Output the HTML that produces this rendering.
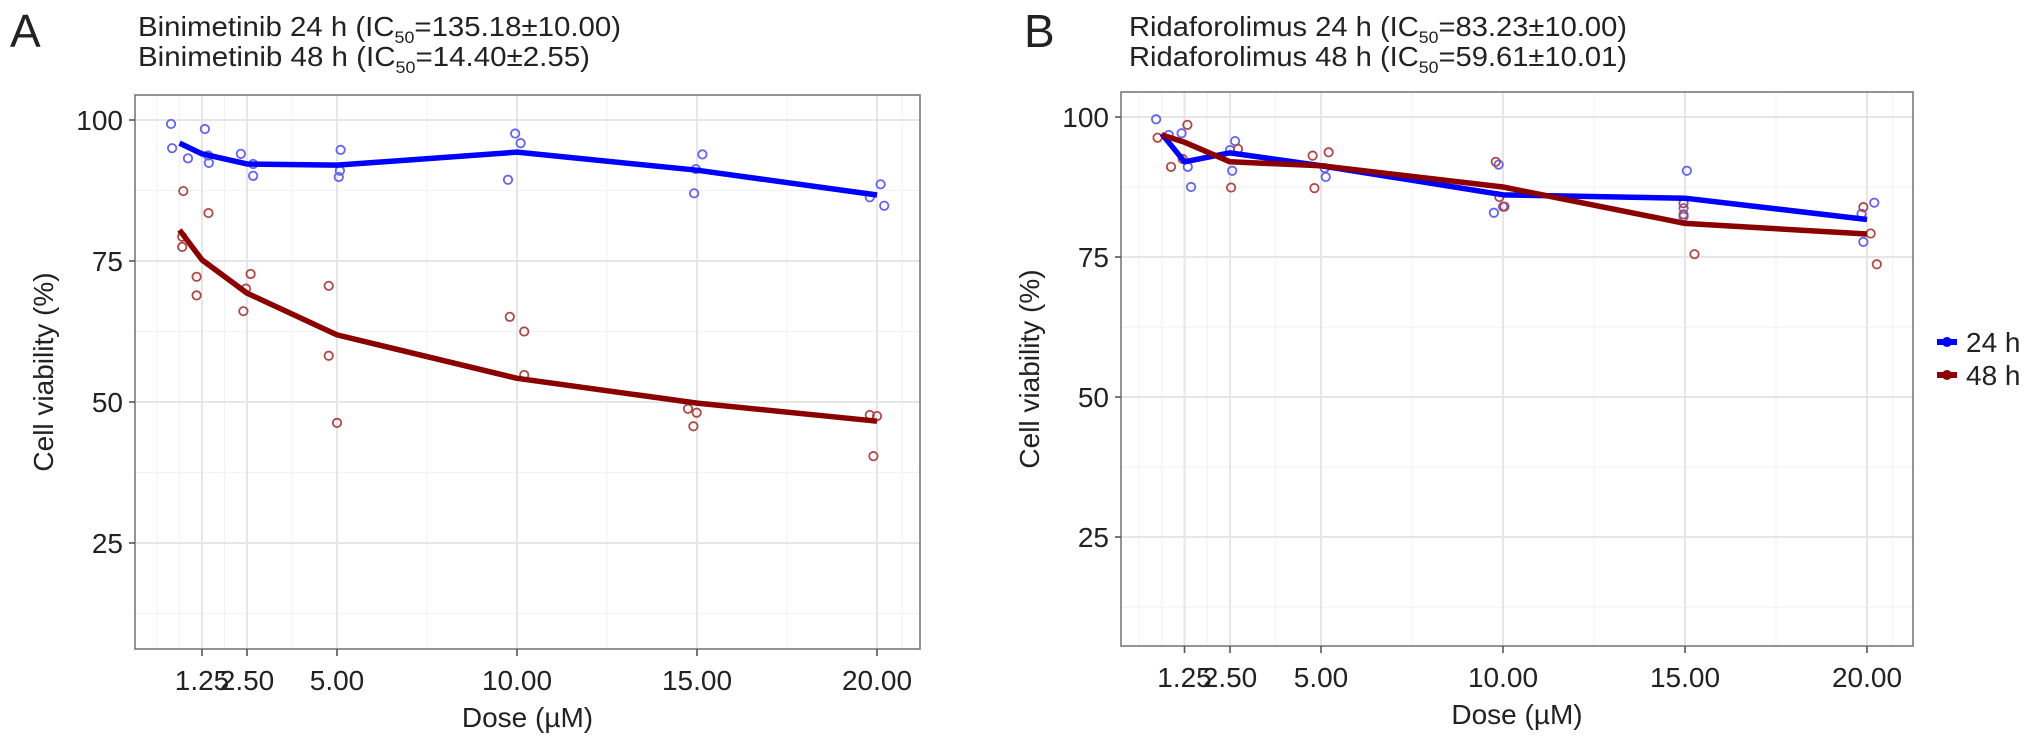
<!DOCTYPE html>
<html><head><meta charset="utf-8"><style>
body{margin:0;background:#fff;}
svg text{font-family:"Liberation Sans",Arial,sans-serif;fill:#222;}
</style></head><body>
<svg id="chart" width="2032" height="751" viewBox="0 0 2032 751" xmlns="http://www.w3.org/2000/svg">
<text x="10" y="47" font-size="46">A</text>
<text x="138" y="36" font-size="28" textLength="483" lengthAdjust="spacingAndGlyphs">Binimetinib 24 h (IC<tspan font-size="17" dy="7">50</tspan><tspan dy="-7">=135.18±10.00)</tspan></text>
<text x="138" y="66" font-size="28" textLength="452" lengthAdjust="spacingAndGlyphs">Binimetinib 48 h (IC<tspan font-size="17" dy="7">50</tspan><tspan dy="-7">=14.40±2.55)</tspan></text>
<text x="1024" y="47" font-size="46">B</text>
<text x="1129" y="36" font-size="28" textLength="498" lengthAdjust="spacingAndGlyphs">Ridaforolimus 24 h (IC<tspan font-size="17" dy="7">50</tspan><tspan dy="-7">=83.23±10.00)</tspan></text>
<text x="1129" y="66" font-size="28" textLength="498" lengthAdjust="spacingAndGlyphs">Ridaforolimus 48 h (IC<tspan font-size="17" dy="7">50</tspan><tspan dy="-7">=59.61±10.01)</tspan></text>
<g>
<line x1="1937" y1="342" x2="1957" y2="342" stroke="#0000ff" stroke-width="6"/>
<circle cx="1947" cy="342" r="5" fill="#0000ff"/>
<text x="1966" y="352" font-size="28">24 h</text>
<line x1="1937" y1="375" x2="1957" y2="375" stroke="#8b0000" stroke-width="6"/>
<circle cx="1947" cy="375" r="5" fill="#8b0000"/>
<text x="1966" y="385" font-size="28">48 h</text>
</g>
</svg>
<script>
// Shared
const fitDoses = [0.625, 1.25, 2.5, 5, 10, 15, 20];
const xTicks = [1.25, 2.5, 5, 10, 15, 20];
const xTickLabels = ["1.25", "2.50", "5.00", "10.00", "15.00", "20.00"];
const xMinor = [0, 0.625, 1.875, 3.75, 7.5, 12.5, 17.5, 20.7];
const yTicks = [25, 50, 75, 100];
const yTickLabels = ["25", "50", "75", "100"];
const yMinor = [12.5, 37.5, 62.5, 87.5];
// Panel A fits
const aFit24 = [95.9, 94.0, 92.2, 92.0, 94.3, 91.1, 86.7];
const aFit48 = [80.5, 75.2, 69.3, 61.9, 54.2, 49.8, 46.6];
// Panel A points
const aPtsX24 = [0.39, 0.42, 0.86, 1.33, 1.44, 1.42, 2.33, 2.67, 2.67, 5.1, 5.08, 5.05, 9.95, 10.1, 9.75, 15.15, 14.97, 14.92, 20.1, 19.8, 20.2];
const aPtsY24 = [99.3, 95.0, 93.2, 98.4, 92.4, 93.7, 94.0, 90.1, 92.2, 94.7, 91.0, 89.9, 97.6, 95.9, 89.4, 93.9, 91.3, 87.0, 88.6, 86.3, 84.8];
const aPtsX48 = [0.73, 0.70, 0.70, 1.43, 1.1, 1.1, 2.6, 2.47, 2.4, 4.77, 4.77, 5.0, 9.8, 10.2, 10.2, 14.75, 14.99, 14.9, 19.8, 20.0, 19.9];
const aPtsY48 = [87.4, 79.3, 77.5, 83.5, 72.2, 68.9, 72.7, 70.1, 66.1, 70.6, 58.2, 46.3, 65.1, 62.5, 54.8, 48.8, 48.1, 45.7, 47.7, 47.5, 40.4];
// Panel B fits
const bFit24 = [97.0, 92.0, 93.6, 91.3, 86.1, 85.5, 81.7];
const bFit48 = [96.8, 95.5, 92.0, 91.3, 87.5, 81.0, 79.1];
// Panel B points
const bPtsX24 = [0.47, 0.82, 1.17, 1.34, 1.43, 2.64, 2.5, 2.56, 5.13, 5.1, 9.88, 9.75, 10.0, 15.05, 14.96, 14.96, 20.2, 19.85, 19.9];
const bPtsY24 = [99.6, 96.8, 97.1, 91.1, 87.5, 95.7, 94.1, 90.4, 89.3, 90.9, 91.5, 82.9, 84.0, 90.4, 83.7, 82.2, 84.7, 82.7, 77.7];
const bPtsX48 = [0.51, 1.33, 0.88, 1.2, 2.72, 2.53, 4.77, 5.21, 4.82, 9.8, 10.04, 9.9, 14.96, 15.26, 14.96, 19.9, 20.1, 20.27];
const bPtsY48 = [96.3, 98.6, 91.1, 92.5, 94.3, 87.4, 93.1, 93.7, 87.3, 92.0, 84.0, 85.7, 84.6, 75.5, 82.6, 83.9, 79.2, 73.7];

const NS = "http://www.w3.org/2000/svg";
const svg = document.getElementById("chart");
function mk(tag, attrs, parent) {
  const e = document.createElementNS(NS, tag);
  for (const k in attrs) e.setAttribute(k, attrs[k]);
  (parent || svg).appendChild(e);
  return e;
}
function panel(id, L, T, R, B, x0, xs, y100, ys, fit24, fit48, px24, py24, px48, py48) {
  const xf = v => x0 + xs * v;
  const yf = v => y100 + (100 - v) * ys;
  const g = mk("g", {});
  
  
  mk("rect", {x: L, y: T, width: R - L, height: B - T, fill: "#fff"}, g);
  yMinor.forEach(v => mk("line", {x1: L, x2: R, y1: yf(v), y2: yf(v), stroke: "#f2f2f2", "stroke-width": 1.2}, g));
  xMinor.forEach(v => mk("line", {x1: xf(v), x2: xf(v), y1: T, y2: B, stroke: "#f2f2f2", "stroke-width": 1.2}, g));
  yTicks.forEach(v => mk("line", {x1: L, x2: R, y1: yf(v), y2: yf(v), stroke: "#e6e6e6", "stroke-width": 2}, g));
  xTicks.forEach(v => mk("line", {x1: xf(v), x2: xf(v), y1: T, y2: B, stroke: "#e6e6e6", "stroke-width": 2}, g));
  const drawPts = (xs_, ys_, col, nm) => xs_.forEach((d, i) => {
    const c = mk("circle", {cx: xf(d), cy: yf(ys_[i]), r: 4.2, fill: "none", stroke: col, "stroke-width": 1.8}, g);
    
    
  });
  drawPts(px24, py24, "#6464f0", "point-24h");
  drawPts(px48, py48, "#b04848", "point-48h");
  const drawLine = (vals, col, nm) => {
    const p = mk("polyline", {points: fitDoses.map((d, i) => xf(d) + "," + yf(vals[i])).join(" "), fill: "none", stroke: col, "stroke-width": 5.5, "stroke-linejoin": "round"}, g);
    
    
  };
  drawLine(fit24, "#0000ff", "fit-line-24h");
  drawLine(fit48, "#8b0000", "fit-line-48h");
  mk("rect", {x: L, y: T, width: R - L, height: B - T, fill: "none", stroke: "#7a7a7a", "stroke-width": 1.6}, g);
  yTicks.forEach((v, i) => {
    mk("line", {x1: L - 6, x2: L, y1: yf(v), y2: yf(v), stroke: "#555", "stroke-width": 1.6}, g);
    const t = mk("text", {x: L - 12, y: yf(v) + 10, "font-size": 28, "text-anchor": "end"}, g);
    t.textContent = yTickLabels[i];
    
    
  });
  xTicks.forEach((v, i) => {
    mk("line", {x1: xf(v), x2: xf(v), y1: B, y2: B + 7, stroke: "#555", "stroke-width": 1.6}, g);
    const t = mk("text", {x: xf(v), y: B + 41, "font-size": 28, "text-anchor": "middle"}, g);
    t.textContent = xTickLabels[i];
    
    
  });
  const xt = mk("text", {x: (L + R) / 2, y: B + 78, "font-size": 28, "text-anchor": "middle"}, g);
  xt.textContent = "Dose (µM)";
  
  
  const cy = (T + B) / 2;
  const yt = mk("text", {x: L - 82, y: cy, "font-size": 28, "text-anchor": "middle", transform: "rotate(-90 " + (L - 82) + " " + cy + ")"}, g);
  yt.textContent = "Cell viability (%)";
  
  
}
panel("a", 135, 95, 920, 649, 157, 36, 120, 5.64, aFit24, aFit48, aPtsX24, aPtsY24, aPtsX48, aPtsY48);
panel("b", 1121, 92, 1913, 646, 1139, 36.4, 117, 5.6, bFit24, bFit48, bPtsX24, bPtsY24, bPtsX48, bPtsY48);
</script>
</body></html>
